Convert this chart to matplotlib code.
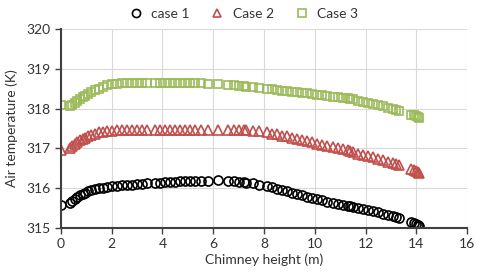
import matplotlib.pyplot as plt

# chimney height (m)
height = [0, 0.35, 0.45, 0.55, 0.65, 0.75, 0.85, 0.95, 1.05, 1.2, 1.35, 1.5, 1.65, 1.8,
          2.0, 2.2, 2.4, 2.6, 2.8, 3.0, 3.2, 3.4, 3.7, 3.9, 4.1, 4.3, 4.5, 4.7, 4.9,
          5.1, 5.3, 5.5, 5.8, 6.2, 6.6, 6.8, 7.0, 7.2, 7.3, 7.55, 7.8, 8.1, 8.3, 8.5, 8.7,
          8.9, 9.1, 9.3, 9.5, 9.7, 9.9, 10.1, 10.3, 10.5, 10.7, 10.9, 11.1, 11.3,
          11.4, 11.5, 11.7, 11.9, 12.1, 12.3, 12.5, 12.7, 12.9, 13.1, 13.2, 13.3,
          13.8, 13.9, 14.0, 14.05, 14.1]

# air temperature (K)
case1 = [315.58, 315.63, 315.68, 315.73, 315.78, 315.82, 315.86, 315.89, 315.92, 315.95,
         315.98, 316.00, 316.01, 316.03, 316.05, 316.06, 316.07, 316.08, 316.09, 316.10,
         316.11, 316.12, 316.13, 316.14, 316.15, 316.15, 316.16, 316.17, 316.17, 316.18,
         316.18, 316.19, 316.19, 316.20, 316.18, 316.17, 316.16, 316.15, 316.14, 316.12, 316.09,
         316.05, 316.02, 315.99, 315.96, 315.93, 315.89, 315.86, 315.83, 315.79, 315.76,
         315.72, 315.69, 315.66, 315.63, 315.60, 315.58, 315.55, 315.54, 315.52, 315.49,
         315.47, 315.44, 315.42, 315.39, 315.36, 315.33, 315.30, 315.28, 315.25, 315.15,
         315.13, 315.11, 315.08, 315.05]

case2 = [316.95, 317.00, 317.06, 317.11, 317.16, 317.20, 317.24, 317.27, 317.30, 317.34,
         317.37, 317.40, 317.42, 317.43, 317.44, 317.45, 317.46, 317.46, 317.47, 317.46,
         317.47, 317.46, 317.47, 317.47, 317.46, 317.47, 317.47, 317.46, 317.47, 317.47,
         317.46, 317.47, 317.47, 317.46, 317.47, 317.46, 317.46, 317.45, 317.45, 317.44, 317.43,
         317.40, 317.37, 317.35, 317.32, 317.30, 317.27, 317.24, 317.21, 317.18, 317.15,
         317.12, 317.09, 317.06, 317.03, 317.00, 316.98, 316.95, 316.93, 316.91, 316.87,
         316.84, 316.80, 316.77, 316.73, 316.70, 316.66, 316.62, 316.60, 316.57, 316.47,
         316.45, 316.42, 316.40, 316.37]

case3 = [318.10, 318.07, 318.10, 318.14, 318.19, 318.24, 318.28, 318.32, 318.36, 318.41,
         318.46, 318.50, 318.54, 318.58, 318.61, 318.62, 318.63, 318.63, 318.63, 318.63,
         318.63, 318.63, 318.63, 318.63, 318.63, 318.63, 318.63, 318.63, 318.63, 318.63,
         318.63, 318.63, 318.62, 318.61, 318.59, 318.58, 318.57, 318.56, 318.55, 318.54, 318.52,
         318.50, 318.49, 318.47, 318.45, 318.44, 318.42, 318.41, 318.39, 318.38, 318.36,
         318.35, 318.33, 318.32, 318.30, 318.29, 318.27, 318.26, 318.25, 318.24, 318.20,
         318.17, 318.15, 318.12, 318.09, 318.06, 318.02, 317.99, 317.97, 317.94, 317.85,
         317.83, 317.81, 317.79, 317.76]

plt.rcParams['font.family'] = ['Lato', 'DejaVu Sans']

fig = plt.figure(figsize=(4.8, 2.78), dpi=100)
ax = fig.add_axes([0.127, 0.18, 0.846, 0.716])

ax.plot(height, case1, 'o', ms=6.5, mfc='none', mec='black', mew=1.2, label='case 1')
ax.plot(height, case2, '^', ms=7, mfc='none', mec='#C0504D', mew=1.2, label='Case 2')
ax.plot(height, case3, 's', ms=6, mfc='none', mec='#9BBB59', mew=1.2, label='Case 3')

ax.set_xlim(0, 16)
ax.set_ylim(315, 320)
ax.set_xticks(range(0, 17, 2))
ax.set_yticks(range(315, 321))
ax.grid(True, color='#D9D9D9', lw=0.8)
ax.set_axisbelow(True)
for s in ['top', 'right']:
    ax.spines[s].set_visible(False)
for s in ['left', 'bottom']:
    ax.spines[s].set_color('#404040')
    ax.spines[s].set_linewidth(1.5)
ax.tick_params(labelsize=10, length=4, width=1, colors='#404040', labelcolor='#333333')

ax.set_xlabel('Chimney height (m)', fontsize=10, color='#333333', labelpad=2)
ax.set_ylabel('Air temperature (K)', fontsize=10, color='#333333', labelpad=6)

fig.legend(loc='upper center', bbox_to_anchor=(0.5, 1.015), ncol=3, frameon=False,
           fontsize=10, handletextpad=0.1, columnspacing=1.0, markerscale=0.9,
           labelcolor='#333333')

fig.savefig('out.png', dpi=100)
